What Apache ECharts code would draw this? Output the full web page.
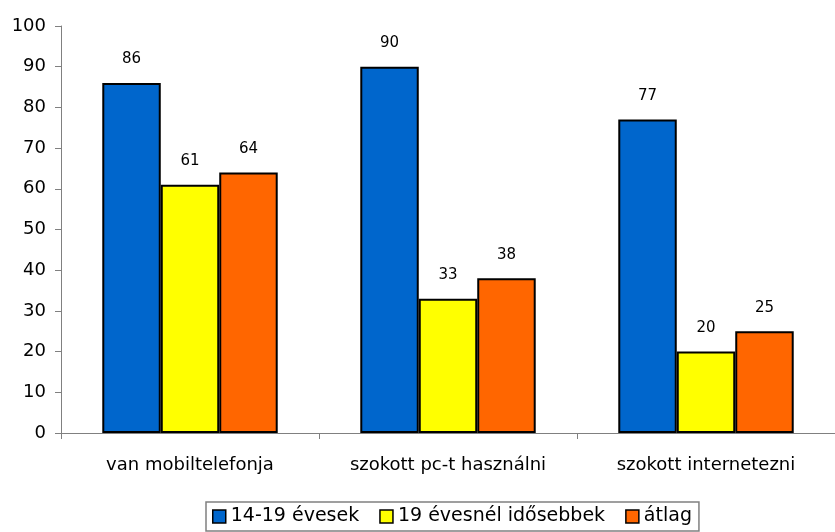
<!DOCTYPE html>
<html>
<head>
<meta charset="utf-8">
<script src="https://cdn.jsdelivr.net/npm/echarts@6/dist/echarts.min.js"></script>
<style>
  html, body { margin: 0; padding: 0; background: #fff; }
  #chart { width: 835px; height: 532px; }
</style>
</head>
<body>
<div id="chart"></div>
<script>
// kategóriák és értékek
const categories = ['van mobiltelefonja', 'szokott pc-t használni', 'szokott internetezni'];
const seriesNames = ['14-19 évesek', '19 évesnél idősebbek', 'átlag'];
const youngValues = [86, 90, 77];
const olderValues = [61, 33, 20];
const avgValues = [64, 38, 25];
const colors = ['#0066CC', '#FFFF00', '#FF6600'];

const chart = echarts.init(document.getElementById('chart'));
const font = 'DejaVu Sans, Arial, sans-serif';

const makeSeries = (name, data, color) => ({
  name: name,
  type: 'bar',
  data: data,
  barGap: 0,
  barCategoryGap: '32%',
  itemStyle: { color: color, borderColor: '#000', borderWidth: 2 },
  label: {
    show: true,
    position: 'top',
    distance: 16,
    color: '#000',
    fontFamily: font,
    fontSize: 15
  }
});

chart.setOption({
  animation: false,
  grid: { left: 61, right: 0, top: 26, bottom: 99 },
  legend: {
    top: 502,
    left: 206,
    itemWidth: 13,
    itemHeight: 13,
    itemGap: 20,
    padding: [5, 7, 5, 6],
    borderColor: '#808080',
    borderWidth: 1.5,
    borderRadius: 0,
    textStyle: { fontFamily: font, fontSize: 19, color: '#000' },
    data: seriesNames.map((n, i) => ({
      name: n,
      icon: 'rect',
      itemStyle: { color: colors[i], borderColor: '#000', borderWidth: 1.5 }
    }))
  },
  xAxis: {
    type: 'category',
    data: categories,
    axisLine: { lineStyle: { color: '#808080', width: 1 } },
    axisTick: { show: true, length: 6, lineStyle: { color: '#808080' } },
    axisLabel: { color: '#000', fontFamily: font, fontSize: 18, margin: 23 }
  },
  yAxis: {
    type: 'value',
    min: 0,
    max: 100,
    interval: 10,
    splitLine: { show: false },
    axisLine: { show: true, lineStyle: { color: '#808080', width: 1 } },
    axisTick: { show: true, length: 6, lineStyle: { color: '#808080' } },
    axisLabel: { color: '#000', fontFamily: font, fontSize: 18, margin: 15 }
  },
  series: [
    makeSeries(seriesNames[0], youngValues, colors[0]),
    makeSeries(seriesNames[1], olderValues, colors[1]),
    makeSeries(seriesNames[2], avgValues, colors[2])
  ]
});
</script>
</body>
</html>
